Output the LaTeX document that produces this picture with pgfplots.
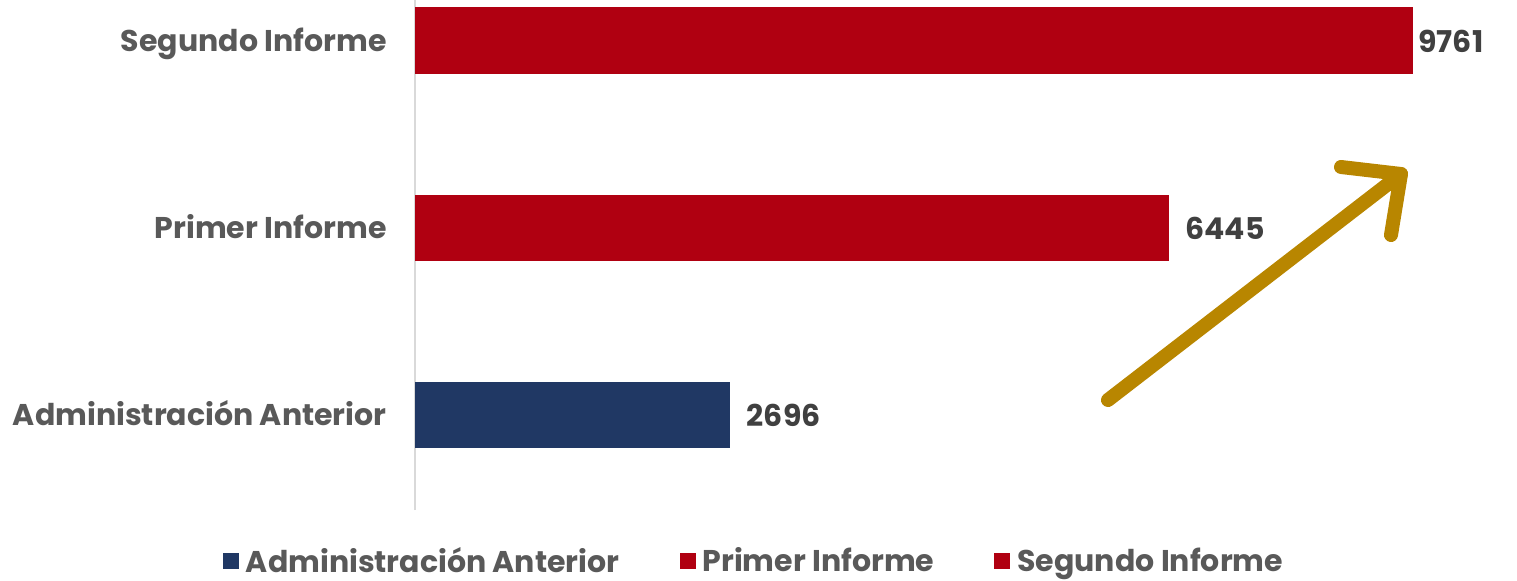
\documentclass[border=0pt]{standalone}
\usepackage{fontspec}
\setmainfont{Poppins}
\usepackage{pgfplots}
\pgfplotsset{compat=1.18}
\definecolor{rojo}{RGB}{176,0,17}
\definecolor{azul}{RGB}{32,56,100}
\definecolor{oro}{RGB}{184,134,0}
\definecolor{txt}{RGB}{89,89,89}
\definecolor{val}{RGB}{64,64,64}
\newcommand{\lbl}{\bfseries\fontsize{15}{18}\selectfont}
\begin{document}
\begin{tikzpicture}
\useasboundingbox (-207.5pt,-35pt) rectangle (551pt,255pt);
\begin{axis}[
  at={(0,0)}, anchor=south west,
  scale only axis, width=499pt, height=255pt,
  xmin=0, xmax=8530, ymin=-0.508, ymax=2.219,
  xbar, bar shift=0pt, bar width=0.358,
  axis x line=none, axis y line*=left,
  y axis line style={-, draw=black!15, line width=1pt},
  ytick={0,1,2},
  yticklabels={Administración Anterior, Primer Informe, Segundo Informe},
  major tick length=0pt,
  yticklabel style={font=\lbl, text=txt, anchor=base east, inner sep=0pt, xshift=-14pt, yshift=-5.4pt},
  clip=false,
  restrict x to domain*=0:8530,
  nodes near coords, point meta=explicit symbolic,
  nodes near coords style={font=\lbl, text=val, anchor=west, inner sep=0pt, xshift=8pt},
  legend style={at={(0.3387,-0.1)}, anchor=center, draw=none, fill=none,
    legend columns=3, font=\lbl, text=txt,
    nodes={inner sep=0pt},
    /tikz/every even column/.append style={column sep=30pt},
    /tikz/every odd column/.append style={column sep=3.5pt}},
]
\addplot[fill=azul, draw=none, legend image code/.code={\fill[azul] (0pt,-4pt) rectangle (8pt,4pt);}]
  coordinates {(2696,0) [2696]};
\addlegendentry{Administración Anterior}
\addplot[fill=rojo, draw=none, legend image code/.code={\fill[rojo] (0pt,-4pt) rectangle (8pt,4pt);}]
  coordinates {(6445,1) [6445]};
\addlegendentry{Primer Informe}
\addplot[fill=rojo, draw=none, every node near coord/.append style={xshift=-5.5pt},
  legend image code/.code={\fill[rojo] (0pt,-4pt) rectangle (8pt,4pt);}]
  coordinates {(9761,2) [9761]};
\addlegendentry{Segundo Informe}
\end{axis}
\draw[oro, line width=7pt, line cap=round, line join=round] (346.5pt,55pt) -- (493pt,168pt);
\draw[oro, line width=7pt, line cap=round, line join=round] (463pt,171.5pt) -- (493pt,168pt) -- (488pt,137.5pt);
\end{tikzpicture}
\end{document}
